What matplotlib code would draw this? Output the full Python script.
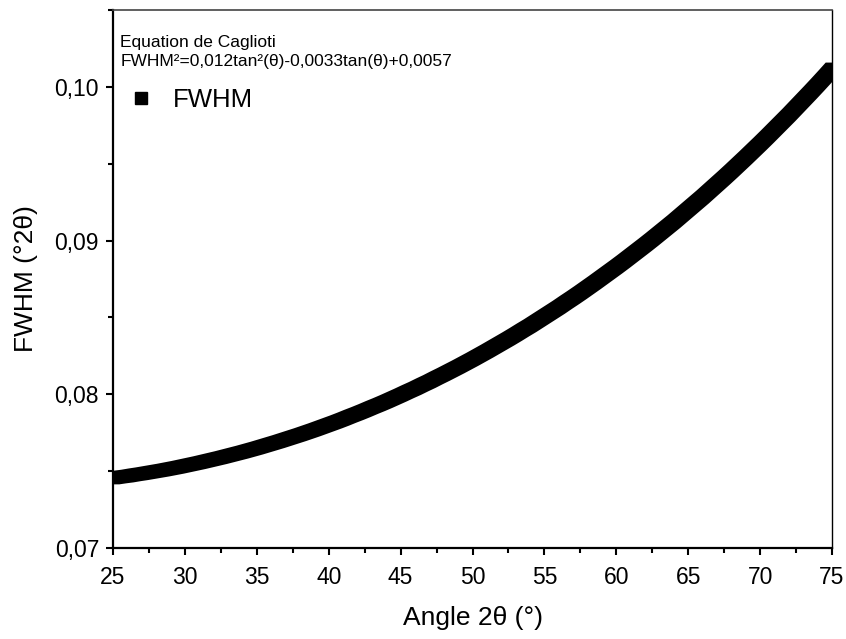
import numpy as np
import matplotlib
matplotlib.use('Agg')
import matplotlib.pyplot as plt
from matplotlib.lines import Line2D
from matplotlib.ticker import MultipleLocator, FuncFormatter

plt.rcParams['font.family'] = ['Liberation Sans', 'DejaVu Sans']

# angle 2theta (deg), step 0.5
angle_2theta = np.linspace(25, 75, 101)

# FWHM (deg 2theta)
fwhm = [
    0.07455, 0.07462, 0.07468, 0.07476, 0.07483, 0.07491, 0.07499, 0.07507, 0.07516, 0.07525,
    0.07535, 0.07545, 0.07555, 0.07566, 0.07577, 0.07588, 0.07600, 0.07612, 0.07624, 0.07637,
    0.07650, 0.07664, 0.07678, 0.07692, 0.07707, 0.07722, 0.07737, 0.07753, 0.07769, 0.07786,
    0.07803, 0.07820, 0.07838, 0.07857, 0.07875, 0.07894, 0.07914, 0.07933, 0.07953, 0.07974,
    0.07995, 0.08017, 0.08038, 0.08061, 0.08083, 0.08107, 0.08130, 0.08154, 0.08178, 0.08203,
    0.08228, 0.08254, 0.08280, 0.08307, 0.08334, 0.08361, 0.08389, 0.08418, 0.08446, 0.08476,
    0.08506, 0.08536, 0.08566, 0.08598, 0.08629, 0.08661, 0.08694, 0.08727, 0.08761, 0.08795,
    0.08829, 0.08864, 0.08900, 0.08936, 0.08972, 0.09009, 0.09047, 0.09085, 0.09123, 0.09163,
    0.09203, 0.09243, 0.09283, 0.09325, 0.09367, 0.09409, 0.09452, 0.09496, 0.09540, 0.09585,
    0.09630, 0.09676, 0.09723, 0.09770, 0.09817, 0.09866, 0.09915, 0.09964, 0.10014, 0.10065,
    0.10117,
]

title_lines = ["Equation de Caglioti",
               "FWHM\u00b2=0,012tan\u00b2(\u03b8)-0,0033tan(\u03b8)+0,0057"]

fig = plt.figure(figsize=(8.46, 6.39), dpi=100)
ax = fig.add_axes([113 / 846, 1 - 548 / 639, 719 / 846, 538 / 639])

ax.set_xlim(25, 75)
ax.set_ylim(0.07, 0.105)

# dense square markers -> draw as the envelope of the squares so the band is smooth
half = 6.3  # half marker size in px
x = np.asarray(angle_2theta)
y = np.asarray(fwhm)
dx = half * (75 - 25) / (719)
dy = half * (0.105 - 0.07) / (538)
px = np.concatenate([[x[0] - dx], x - dx, [x[-1] + dx], (x + dx)[::-1]])
py = np.concatenate([[y[0] - dy], y + dy, [y[-1] + dy], (y - dy)[::-1]])
ax.fill(px, py, color='black', lw=0)

ax.xaxis.set_major_locator(MultipleLocator(5))
ax.xaxis.set_minor_locator(MultipleLocator(2.5))
ax.yaxis.set_major_locator(MultipleLocator(0.01))
ax.yaxis.set_minor_locator(MultipleLocator(0.005))
ax.yaxis.set_major_formatter(FuncFormatter(lambda v, p: f"{v:.2f}".replace('.', ',')))

ax.tick_params(which='major', direction='out', length=5, width=1.5, labelsize=16.5, pad=5)
ax.tick_params(axis='x', which='major', pad=8)
ax.tick_params(which='minor', direction='out', length=3.5, width=1.5)

ax.spines['left'].set_linewidth(1.6)
ax.spines['bottom'].set_linewidth(1.6)
ax.spines['right'].set_linewidth(1.0)
ax.spines['top'].set_linewidth(1.2)
ax.spines['top'].set_color('#444444')

ax.set_xlabel('Angle 2\u03b8 (\u00b0)', fontsize=19, labelpad=12)
ax.set_ylabel('FWHM (\u00b02\u03b8)', fontsize=19, labelpad=12)

ax.text(0.01, 0.940, title_lines[0], transform=ax.transAxes, fontsize=12.5, va='center')
ax.text(0.01, 0.905, title_lines[1], transform=ax.transAxes, fontsize=12.5, va='center')

handle = Line2D([], [], marker='s', color='black', linestyle='none', markersize=9)
ax.legend([handle], ['FWHM'], loc='center left', bbox_to_anchor=(0.021, 0.832),
          frameon=False, fontsize=18.5, handlelength=1.0, handletextpad=0.73,
          borderpad=0, borderaxespad=0)

fig.savefig('out.png', dpi=100)
